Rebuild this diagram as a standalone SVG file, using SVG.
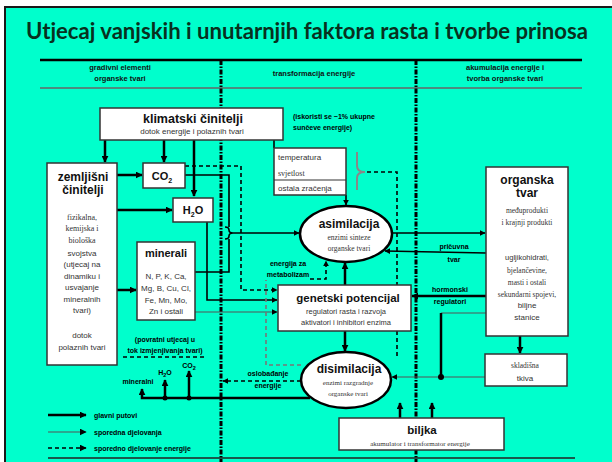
<svg xmlns="http://www.w3.org/2000/svg" width="612" height="462" viewBox="0 0 612 462">
<defs>
<marker id="ah" viewBox="0 0 10 10" refX="9" refY="5" markerWidth="7" markerHeight="7" markerUnits="userSpaceOnUse" orient="auto"><path d="M0,0 L10,5 L0,10 z" fill="#000"/></marker>
<marker id="ahs" viewBox="0 0 10 10" refX="9" refY="5" markerWidth="6" markerHeight="6" markerUnits="userSpaceOnUse" orient="auto"><path d="M0,0 L10,5 L0,10 z" fill="#000"/></marker>
</defs>
<style>
.bx{fill:#fff;stroke:#333;stroke-width:1.5}
.t{font-family:"Liberation Sans",Arial,sans-serif;fill:#111}
.b{font-weight:bold}
.sf{font-family:"Liberation Serif","Times New Roman",serif;fill:#333}
.g{fill:#333}
.main{fill:none;stroke:#000;stroke-width:2.5}
.med{fill:none;stroke:#000;stroke-width:1.6}
.thin{fill:none;stroke:#555;stroke-width:1.2}
.dash{fill:none;stroke:#000;stroke-width:1.6;stroke-dasharray:4 3}
.gdash{fill:none;stroke:#777;stroke-width:1.6;stroke-dasharray:4 3}
.div{fill:none;stroke:#000;stroke-width:3;stroke-dasharray:5 1.5 1.5 1.5}
.lbl{font-family:"Liberation Sans",Arial,sans-serif;font-weight:bold;font-size:7px;fill:#000}
.hd{font-family:"Liberation Sans",Arial,sans-serif;font-weight:bold;font-size:7.5px;fill:#111}
</style>
<rect x="0" y="0" width="612" height="462" fill="#fff"/>
<rect x="5" y="7" width="607" height="455" fill="#00FFCC"/>
<path d="M5,462 V7 H612" fill="none" stroke="#1a1a1a" stroke-width="2"/>
<text x="307" y="39" text-anchor="middle" font-family="Lato,'Liberation Sans',sans-serif" font-weight="bold" font-size="22" fill="#08301e" textLength="562" lengthAdjust="spacingAndGlyphs">Utjecaj vanjskih i unutarnjih faktora rasta i tvorbe prinosa</text>

<g id="header">
<line x1="40" y1="60" x2="582" y2="60" stroke="#000" stroke-width="2.5"/>
<line x1="40" y1="88" x2="582" y2="88" stroke="#666" stroke-width="1.5"/>
<text class="hd" x="120" y="70" text-anchor="middle">gradivni elementi</text>
<text class="hd" x="120" y="81" text-anchor="middle">organske tvari</text>
<text class="hd" x="314" y="76" text-anchor="middle">transformacija energije</text>
<text class="hd" x="505" y="70" text-anchor="middle">akumulacija energije i</text>
<text class="hd" x="505" y="81" text-anchor="middle">tvorba organske tvari</text>
<line class="div" x1="221" y1="60" x2="221" y2="462"/>
<line class="div" x1="416" y1="60" x2="416" y2="462"/>
</g>

<g id="connectors">
<line class="main" x1="105" y1="140" x2="105" y2="162" marker-end="url(#ah)"/>
<line class="main" x1="164" y1="140" x2="164" y2="162" marker-end="url(#ah)"/>
<line class="main" x1="194" y1="140" x2="194" y2="196" marker-end="url(#ah)"/>
<line class="med" x1="274" y1="140" x2="274" y2="148"/>
<line class="med" x1="346" y1="195" x2="346" y2="205" marker-end="url(#ahs)"/>
<path d="M357,152 V166 Q357,172 365,172 Q357,172 357,178 V190" fill="none" stroke="#888" stroke-width="2"/>
<path class="dash" d="M367,172 H397 V358"/>
<line class="main" x1="117" y1="175" x2="142" y2="175" marker-end="url(#ah)"/>
<line class="main" x1="117" y1="210" x2="172" y2="210" marker-end="url(#ah)"/>
<line class="main" x1="117" y1="290" x2="136" y2="290" marker-end="url(#ah)"/>
<path class="med" d="M185,175 H229 V227"/>
<path class="med" d="M195,272 H229 V239"/>
<path class="med" d="M225,227 Q229,227 229,230 Q229,233 233,233 Q229,233 229,236 Q229,239 225,239"/>
<line class="med" x1="233" y1="233" x2="299" y2="233" marker-end="url(#ahs)"/>
<path class="dash" d="M185,166 H241 V290 H277" marker-end="url(#ahs)"/>
<path class="med" d="M207,222 V300 H277" marker-end="url(#ahs)"/>
<path class="thin" d="M195,312 H277" marker-end="url(#ahs)"/>
<line class="main" x1="345" y1="285" x2="345" y2="263" marker-end="url(#ah)"/>
<line class="main" x1="345" y1="331" x2="345" y2="351" marker-end="url(#ah)"/>
<path class="gdash" d="M301,365 H266 V280"/>
<path class="dash" d="M310,279 H326 V261" marker-end="url(#ahs)"/>
<path class="dash" d="M301,381 H223" marker-end="url(#ahs)"/>
<path class="main" d="M310,398 H142 V389" marker-end="url(#ah)"/>
<line class="main" x1="165" y1="398" x2="165" y2="380" marker-end="url(#ah)"/>
<line class="main" x1="189" y1="398" x2="189" y2="371" marker-end="url(#ah)"/>
<circle cx="165" cy="398" r="2.5" fill="#000"/>
<circle cx="189" cy="398" r="2.5" fill="#000"/>
<line class="med" x1="392" y1="233" x2="485" y2="233" marker-end="url(#ahs)"/>
<line class="med" x1="486" y1="253" x2="385" y2="251" marker-end="url(#ahs)"/>
<line class="main" x1="486" y1="296" x2="412" y2="296" marker-end="url(#ah)"/>
<path class="thin" d="M486,313 H441"/>
<line x1="441" y1="313" x2="441" y2="377" stroke="#000" stroke-width="2.5"/>
<line class="thin" x1="485" y1="377" x2="392" y2="377" marker-end="url(#ahs)"/>
<circle cx="441" cy="377" r="3" fill="#000"/>
<line class="main" x1="520" y1="336" x2="520" y2="353" marker-end="url(#ah)"/>
<line class="main" x1="400" y1="418" x2="400" y2="403" marker-end="url(#ah)"/>
<line class="main" x1="432" y1="418" x2="432" y2="403" marker-end="url(#ah)"/>
<line class="dash" x1="123" y1="357" x2="207" y2="357" stroke="#888"/>
</g>

<g id="klimatski">
<rect class="bx" x="100" y="108" width="183" height="32"/>
<text class="t b" x="193" y="123" font-size="12.5" text-anchor="middle">klimatski činitelji</text>
<text class="t g" x="192" y="134" font-size="8" text-anchor="middle">dotok energije i polaznih tvari</text>
</g>

<g id="zemljisni">
<rect class="bx" x="47" y="163" width="70" height="202"/>
<text class="t b" x="83" y="181" font-size="12" text-anchor="middle">zemljišni</text>
<text class="t b" x="83" y="194" font-size="12" text-anchor="middle">činitelji</text>
<g font-size="8" text-anchor="middle">
<text class="sf" x="82" y="220">fizikalna,</text>
<text class="sf" x="82" y="231">kemijska i</text>
<text class="sf" x="82" y="243">biološka</text>
<text class="t g" x="82" y="256">svojstva</text>
<text class="t g" x="82" y="267">(utjecaj na</text>
<text class="t g" x="82" y="279">dinamiku i</text>
<text class="t g" x="82" y="290">usvajanje</text>
<text class="t g" x="82" y="302">mineralnih</text>
<text class="t g" x="82" y="313">tvari)</text>
<text class="t g" x="82" y="338">dotok</text>
<text class="t g" x="82" y="350">polaznih tvari</text>
</g>
</g>

<g id="co2">
<rect class="bx" x="143" y="163" width="42" height="25"/>
<text class="t b" x="162" y="180" font-size="11" text-anchor="middle">CO<tspan font-size="7" dy="3">2</tspan></text>
</g>

<g id="h2o">
<rect class="bx" x="173" y="198" width="40" height="24"/>
<text class="t b" x="193" y="214" font-size="11" text-anchor="middle">H<tspan font-size="7" dy="3">2</tspan><tspan dy="-3">O</tspan></text>
</g>

<g id="minerali">
<rect class="bx" x="137" y="242" width="58" height="78"/>
<text class="t b" x="166" y="257" font-size="11" text-anchor="middle">minerali</text>
<g font-size="8" text-anchor="middle" class="t g">
<text x="166" y="279">N, P, K, Ca,</text>
<text x="166" y="291">Mg, B, Cu, Cl,</text>
<text x="166" y="303">Fe, Mn, Mo,</text>
<text x="166" y="314">Zn i ostali</text>
</g>
</g>

<g id="povratni">
<text class="lbl" x="165" y="342" text-anchor="middle">(povratni utjecaj u</text>
<text class="lbl" x="165" y="353" text-anchor="middle">tok izmjenjivanja tvari)</text>
</g>

<g id="temperatura">
<rect class="bx" x="274" y="148" width="72" height="47"/>
<line x1="274" y1="180" x2="346" y2="180" stroke="#333" stroke-width="1.2"/>
<text class="t g" x="278" y="160" font-size="8">temperatura</text>
<text class="sf" x="278" y="176" font-size="8">svjetlost</text>
<text class="t g" x="278" y="191" font-size="8">ostala zračenja</text>
</g>

<g id="iskoristi">
<text class="lbl" x="293" y="119">(iskoristi se ~1% ukupne</text>
<text class="lbl" x="293" y="130">sunčeve energije)</text>
</g>

<g id="asimilacija">
<ellipse cx="346" cy="234" rx="46" ry="28" fill="#fff" stroke="#000" stroke-width="2.5"/>
<text class="t b" x="349" y="228" font-size="12" text-anchor="middle">asimilacija</text>
<text class="sf" x="349" y="240" font-size="7.5" text-anchor="middle">enzimi sinteze</text>
<text class="sf" x="349" y="251" font-size="7.5" text-anchor="middle">organske tvari</text>
</g>

<g id="energija-metabolizam">
<text class="lbl" x="288" y="266" text-anchor="middle">energija za</text>
<text class="lbl" x="288" y="277" text-anchor="middle">metabolizam</text>
</g>

<g id="genetski">
<rect class="bx" x="278" y="285" width="133" height="46"/>
<text class="t b" x="348" y="302" font-size="11.5" text-anchor="middle">genetski potencijal</text>
<text class="t g" x="346" y="314" font-size="7.5" text-anchor="middle">regulatori rasta i razvoja</text>
<text class="t g" x="346" y="325" font-size="7.5" text-anchor="middle">aktivatori i inhibitori enzima</text>
</g>

<g id="disimilacija">
<ellipse cx="346" cy="380" rx="45" ry="28" fill="#fff" stroke="#000" stroke-width="2.5"/>
<text class="t b" x="349" y="373" font-size="12" text-anchor="middle">disimilacija</text>
<text class="sf" x="348" y="385" font-size="7" text-anchor="middle">enzimi razgradnje</text>
<text class="sf" x="348" y="396" font-size="7" text-anchor="middle">organske tvari</text>
</g>

<g id="oslobadjanje">
<text class="lbl" x="268" y="376" text-anchor="middle">oslobađanje</text>
<text class="lbl" x="268" y="388" text-anchor="middle">energije</text>
</g>

<g id="bottom-labels">
<text class="lbl" x="138" y="384" text-anchor="middle">mineralni</text>
<text class="lbl" x="165" y="375" text-anchor="middle" font-size="8">H<tspan font-size="5.5" dy="2">2</tspan><tspan dy="-2">O</tspan></text>
<text class="lbl" x="189" y="368" text-anchor="middle" font-size="8">CO<tspan font-size="5.5" dy="2">2</tspan></text>
</g>

<g id="organska">
<rect class="bx" x="486" y="167" width="82" height="169"/>
<text class="t b" x="527" y="184" font-size="12" text-anchor="middle">organska</text>
<text class="t b" x="527" y="197" font-size="12" text-anchor="middle">tvar</text>
<g font-size="7.5" text-anchor="middle">
<text class="sf" x="527" y="213">međuprodukti</text>
<text class="sf" x="527" y="225">i krajnji produkti</text>
<text class="t g" x="527" y="260">ugljikohidrati,</text>
<text class="sf" x="527" y="273">bjelančevine,</text>
<text class="sf" x="527" y="285">masti i ostali</text>
<text class="sf" x="527" y="297">sekundarni spojevi,</text>
</g>
<text class="t g" x="527" y="308" font-size="8" text-anchor="middle">biljne</text>
<text class="t g" x="527" y="320" font-size="8" text-anchor="middle">stanice</text>
</g>

<g id="pricuvna">
<text class="lbl" x="454" y="249" text-anchor="middle">pričuvna</text>
<text class="lbl" x="454" y="262" text-anchor="middle">tvar</text>
</g>

<g id="regulatori">
<text class="lbl" x="450" y="292" text-anchor="middle">hormonski</text>
<text class="lbl" x="450" y="304" text-anchor="middle">regulatori</text>
</g>

<g id="skladisna">
<rect class="bx" x="485" y="354" width="82" height="32"/>
<text class="sf" x="525" y="368" font-size="7.5" text-anchor="middle">skladišna</text>
<text class="t g" x="525" y="381" font-size="8" text-anchor="middle">tkiva</text>
</g>

<g id="biljka">
<rect class="bx" x="339" y="418" width="165" height="32"/>
<text class="t b" x="422" y="434" font-size="11.5" text-anchor="middle">biljka</text>
<text class="sf" x="420" y="446" font-size="7" text-anchor="middle">akumulator i transformator energije</text>
</g>

<g id="legend">
<line class="main" x1="48" y1="415" x2="86" y2="415" marker-end="url(#ah)"/>
<text class="lbl" x="94" y="418">glavni putovi</text>
<line class="thin" x1="48" y1="432" x2="86" y2="432" marker-end="url(#ah)"/>
<text class="lbl" x="94" y="435">sporedna djelovanja</text>
<line class="dash" x1="48" y1="448" x2="86" y2="448" marker-end="url(#ah)"/>
<text class="lbl" x="94" y="451">sporedno djelovanje energije</text>
<line x1="48" y1="458" x2="575" y2="458" stroke="#222" stroke-width="1.5"/>
</g>
</svg>
